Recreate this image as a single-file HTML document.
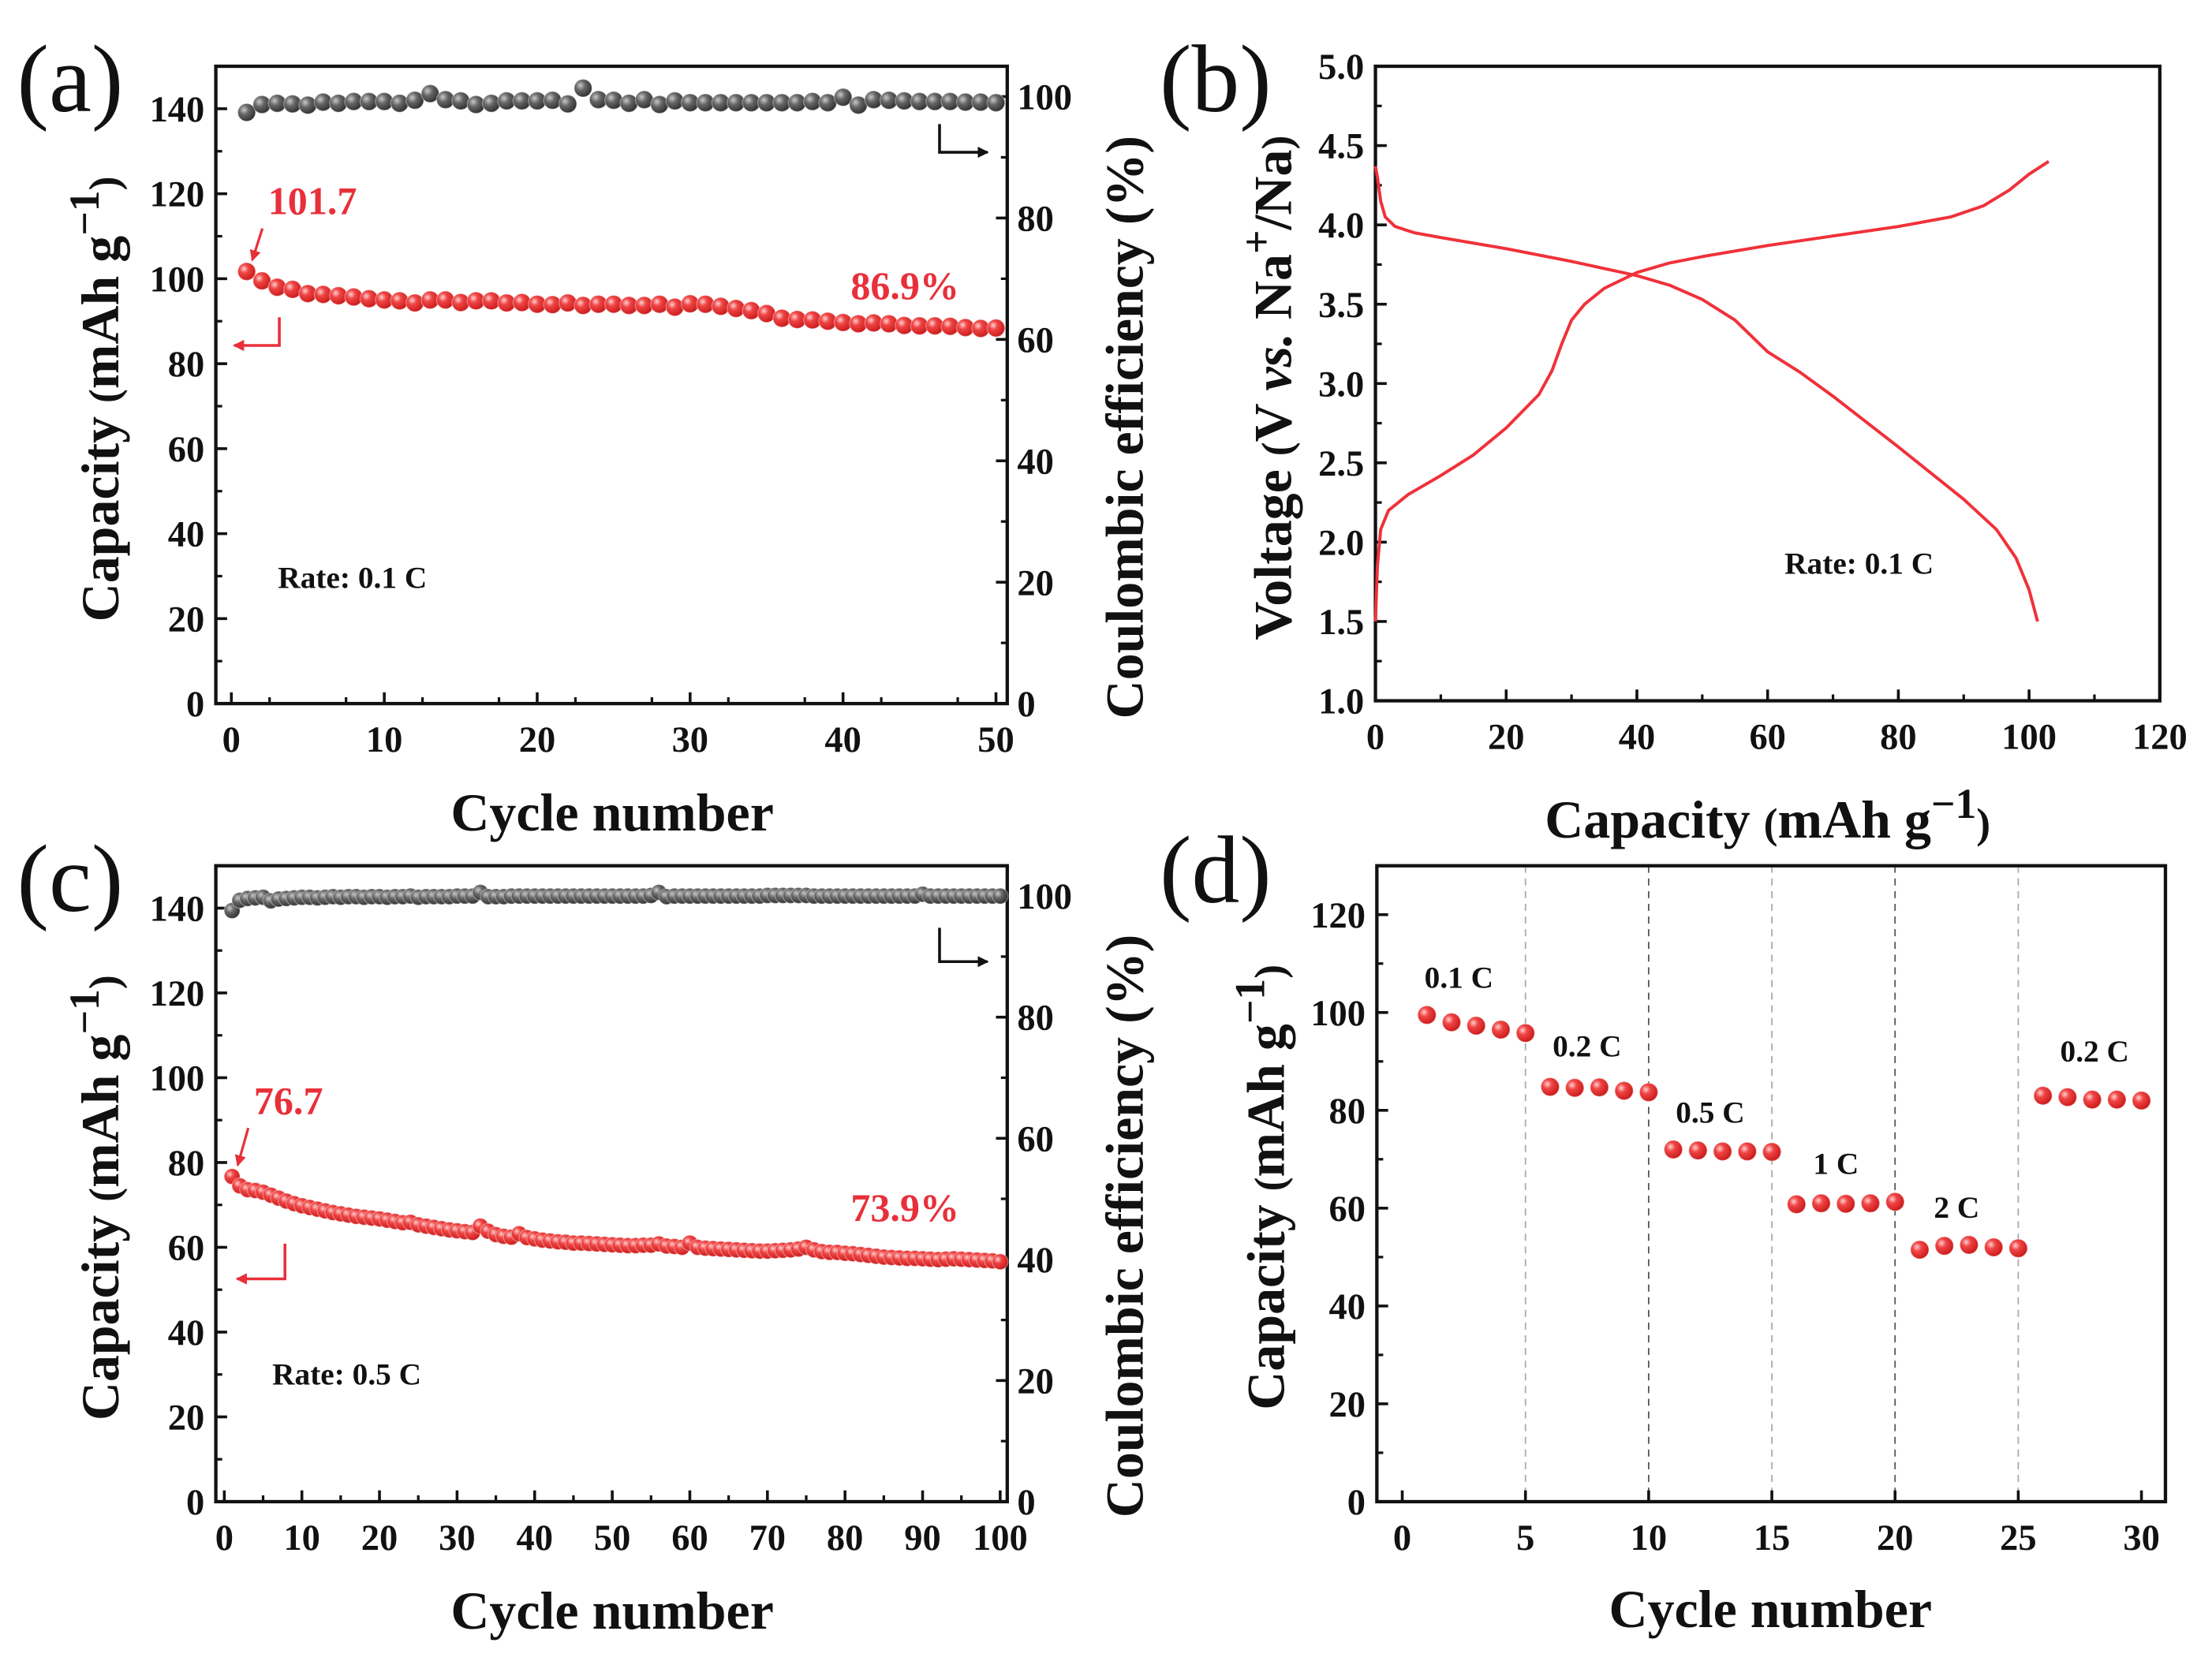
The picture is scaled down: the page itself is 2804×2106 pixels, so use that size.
<!DOCTYPE html>
<html><head><meta charset="utf-8"><style>
html,body{margin:0;padding:0;background:#fff;}
svg{display:block;}
text{font-family:"Liberation Serif",serif;}
</style></head><body>
<svg id="fig" xmlns="http://www.w3.org/2000/svg" width="2804" height="2106" viewBox="0 0 1568 1178" preserveAspectRatio="none">
<defs>
<radialGradient id="gRed" cx="0.35" cy="0.35" r="0.7"><stop offset="0" stop-color="#ffd0d0"/><stop offset="0.35" stop-color="#f04545"/><stop offset="1" stop-color="#c81818"/></radialGradient>
<radialGradient id="gGray" cx="0.35" cy="0.35" r="0.7"><stop offset="0" stop-color="#c8c8c8"/><stop offset="0.4" stop-color="#666"/><stop offset="1" stop-color="#2e2e2e"/></radialGradient>
<marker id="arrR" markerWidth="8" markerHeight="8" refX="7" refY="4" orient="auto" markerUnits="userSpaceOnUse"><path d="M0,0 L8,4 L0,8 z" fill="#e8303a"/></marker>
<marker id="arrK" markerWidth="8" markerHeight="8" refX="7" refY="4" orient="auto" markerUnits="userSpaceOnUse"><path d="M0,0 L8,4 L0,8 z" fill="#111"/></marker>
</defs>
</svg>
<script>
// ---- data ----
const aCapacity=[101.7,99.5,98,97.5,96.5,96.3,96,95.7,95.3,95,94.8,94.3,95,95,94.4,94.8,94.8,94.3,94.4,94,93.9,94.3,93.7,94,94,93.7,93.7,94,93.3,94.1,94,93.5,93,92.5,91.8,90.7,90.4,90.3,90,89.7,89.4,89.6,89.4,89,88.9,88.9,88.8,88.5,88.3,88.4];
const aCE=[97.4,98.7,98.9,98.8,98.6,99.1,98.9,99.2,99.2,99.2,98.9,99.4,100.5,99.5,99.3,98.7,98.9,99.3,99.3,99.3,99.4,98.8,101.4,99.5,99.4,98.9,99.5,98.7,99.3,99.0,99.0,99.0,99.0,99.0,99.0,99.0,99.0,99.2,99.0,99.9,98.6,99.5,99.4,99.3,99.2,99.2,99.2,99.1,99.1,99.0];
const cCapacity=[76.7,74.5,73.6,73.4,73.0,72.3,71.6,70.9,70.3,69.8,69.4,69.0,68.6,68.2,67.9,67.6,67.3,67.1,66.9,66.7,66.4,66.1,65.8,65.9,65.3,65.0,64.7,64.4,64.1,63.9,63.7,63.5,65.0,63.8,63.0,62.6,62.4,63.2,62.3,62.0,61.7,61.5,61.3,61.2,61.0,61.0,60.9,60.8,60.7,60.6,60.5,60.4,60.4,60.5,60.5,60.8,60.3,60.2,60.0,61.0,60.0,59.8,59.7,59.6,59.5,59.4,59.3,59.2,59.1,59.1,59.2,59.3,59.4,59.6,60.0,59.4,59.0,58.8,58.8,58.6,58.5,58.3,58.1,57.9,57.7,57.6,57.5,57.4,57.4,57.3,57.2,57.1,57.2,57.3,57.2,57.1,57.0,56.9,56.8,56.6];
const cCE=[97.6,99.3,99.6,99.7,99.8,99.2,99.5,99.6,99.7,99.8,99.8,99.7,99.8,99.9,99.8,99.9,99.9,99.8,99.9,99.9,99.8,99.9,99.9,100.0,99.8,99.9,99.9,99.9,99.9,100.0,100.0,100.0,100.6,99.9,99.9,99.9,100.0,100.0,100.0,100.0,100.0,100.0,100.0,100.0,100.0,100.0,100.0,100.0,100.0,100.0,100.0,100.0,100.0,100.0,100.1,100.6,99.9,100.0,100.0,100.0,100.0,100.0,100.0,100.0,100.0,100.0,100.0,100.0,100.0,100.1,100.1,100.1,100.1,100.1,100.1,100.0,100.0,100.0,100.0,100.0,100.0,100.0,100.0,100.0,100.0,100.0,100.0,100.0,100.0,100.3,100.0,100.0,100.0,100.0,100.0,100.0,100.0,100.0,100.0,100.0];
const bChargeX=[0,0.3,0.8,2,5,10,15,20,25,27,28.5,30,32,35,40,45,50,60,70,80,88,93,97,100,103];
const bChargeY=[1.5,1.85,2.08,2.2,2.3,2.42,2.55,2.72,2.93,3.08,3.25,3.4,3.5,3.6,3.7,3.76,3.8,3.87,3.93,3.99,4.05,4.12,4.22,4.32,4.4];
const bDischargeX=[0,0.3,0.8,1.5,3,6,10,20,30,40,45,50,55,60,65,70,80,90,95,98,100,101.3];
const bDischargeY=[4.37,4.3,4.15,4.05,3.99,3.95,3.92,3.85,3.77,3.68,3.62,3.53,3.4,3.2,3.07,2.92,2.6,2.27,2.08,1.9,1.7,1.5];
const dCycles=[1,2,3,4,5,6,7,8,9,10,11,12,13,14,15,16,17,18,19,20,21,22,23,24,25,26,27,28,29,30];
const dCapacity=[99.5,98,97.3,96.5,95.8,84.8,84.6,84.7,84,83.7,72,71.8,71.6,71.6,71.5,60.8,61,60.9,61,61.3,51.5,52.3,52.5,52,51.8,83,82.7,82.2,82.2,82];
const dRateLabels=['0.1 C','0.2 C','0.5 C','1 C','2 C','0.2 C'];
const dRateLabelX=[2.3,7.5,12.5,17.6,22.5,28.1];
const dRateLabelY=[105,91,77.5,67,58,90];
const dDividers=[5,10,15,20,25];
const capTicks=[0,20,40,60,80,100,120,140];
const ceTicks=[0,20,40,60,80,100];
const aXTicks=[0,10,20,30,40,50];
const cXTicks=[0,10,20,30,40,50,60,70,80,90,100];
const bYTicks=[1.0,1.5,2.0,2.5,3.0,3.5,4.0,4.5,5.0];
const bXTicks=[0,20,40,60,80,100,120];
const dYTicks=[0,20,40,60,80,100,120];
const dXTicks=[0,5,10,15,20,25,30];

const NS='http://www.w3.org/2000/svg';
const svg=document.getElementById('fig');
function mk(tag,attrs,parent){const e=document.createElementNS(NS,tag);for(const k in attrs)e.setAttribute(k,attrs[k]);(parent||svg).appendChild(e);return e;}
function lin(d0,d1,p0,p1){return v=>p0+(v-d0)*(p1-p0)/(d1-d0);}

function frame(g,box){
  const r=mk('rect',{x:box.l,y:box.t,width:box.r-box.l,height:box.b-box.t,fill:'none',stroke:'#111','stroke-width':2.4},g);
  
  
}
function yTicks(g,ticks,sy,x,side,minorStep,lo,hi,fmt,name){
  ticks.forEach(v=>{
    const y=sy(v);
    const l=mk('line',{x1:x,x2:x+side*8,y1:y,y2:y,stroke:'#111','stroke-width':2},g);
    
    
    const t=mk('text',{x:side>0?x-8:x+7,y:y+9,'font-size':26,'font-weight':'bold','text-anchor':side>0?'end':'start',fill:'#111'},g);
    t.textContent=fmt(v);
    
    
  });
  if(minorStep){for(let v=lo;v<=hi+1e-9;v+=minorStep){const y=sy(v);
    const l=mk('line',{x1:x,x2:x+side*4.5,y1:y,y2:y,stroke:'#111','stroke-width':1.8},g);
    
    }}
}
function xTicks(g,ticks,sx,y,minorStep,lo,hi,fmt,name){
  ticks.forEach(v=>{
    const x=sx(v);
    const l=mk('line',{x1:x,x2:x,y1:y,y2:y-8,stroke:'#111','stroke-width':2},g);
    
    
    const t=mk('text',{x:x,y:y+34,'font-size':26,'font-weight':'bold','text-anchor':'middle',fill:'#111'},g);
    t.textContent=fmt(v);
    
    
  });
  if(minorStep){for(let v=lo;v<=hi+1e-9;v+=minorStep){const x=sx(v);
    const l=mk('line',{x1:x,x2:x,y1:y,y2:y-4.5,stroke:'#111','stroke-width':1.8},g);
    
    }}
}
function label(g,txt,x,y,size,opts,name){
  const t=mk('text',Object.assign({x:x,y:y,'font-size':size,fill:'#111'},opts||{}),g);
  t.textContent=txt;
  
  
  return t;
}
function capTitle(g,cx,cy,name){
  const t=mk('text',{x:0,y:0,'font-size':38,'font-weight':'bold','text-anchor':'middle',fill:'#111',transform:`translate(${cx},${cy}) rotate(-90)`},g);
  
  
  t.innerHTML='Capacity <tspan font-size="30">(</tspan>mAh g<tspan dy="-14" font-size="30">−1</tspan><tspan dy="14" font-size="30">)</tspan>';
}
function dots(g,xs,ys,sx,sy,fill,r,name){
  xs.forEach((xv,i)=>{
    const c=mk('circle',{cx:sx(xv),cy:sy(ys[i]),r:r,fill:fill,stroke:'rgba(255,255,255,0.35)','stroke-width':0.8},g);
    
    
  });
}
function bracket(g,pts,marker,color,name){
  const p=mk('polyline',{points:pts,fill:'none',stroke:color,'stroke-width':2,'marker-end':marker},g);
  
  
}

// ---- cycling panel (a / c) ----
function cyclePanel(id,top,bottom,xMax,x0px,x1px,cap,ce,xt,opt){
  const g=mk('g',{});
  
  
  const box={l:153,r:714,t:top,b:bottom};
  const sx=lin(0,xMax,x0px,x1px);
  const sy=lin(0,150,bottom,top);
  const syR=lin(0,105,bottom,top);
  frame(g,box);
  yTicks(g,capTicks,sy,box.l,1,10,10,150,v=>String(v),'left-y');
  yTicks(g,ceTicks,syR,box.r,-1,10,10,100,v=>String(v),'right-y');
  xTicks(g,xt,sx,box.b,xMax/10,xMax/10/2,xMax,v=>String(v),'x');
  const cycles=cap.map((_,i)=>i+1);
  dots(g,cycles,ce,sx,syR,'url(#gGray)',opt.r,'ce-point');
  dots(g,cycles,cap,sx,sy,'url(#gRed)',opt.r,'capacity-point');
  label(g,'('+id+')',12,top+32,68,{},'panel-label');
  capTitle(g,84,(top+bottom)/2+10,'left-y-axis-title');
  const t=mk('text',{x:0,y:0,'font-size':38,'font-weight':'bold','text-anchor':'middle',fill:'#111',transform:`translate(810,${(top+bottom)/2+30}) rotate(-90)`},g);
  t.textContent='Coulombic efficiency (%)';
  
  
  label(g,'Cycle number',434,bottom+90,38,{'font-weight':'bold','text-anchor':'middle'},'x-axis-title');
  label(g,opt.rate,opt.rateX,opt.rateY,22,{'font-weight':'bold'},'rate-note');
  label(g,opt.first,opt.firstX,opt.firstY,28,{fill:'#e8303a','font-weight':'bold'},'first-capacity-note');
  const a=mk('line',{x1:opt.firstX-4,y1:opt.firstY+10,x2:sx(1)+4,y2:sy(cap[0])-8,stroke:'#e8303a','stroke-width':1.8,'marker-end':'url(#arrR)'},g);
  
  
  label(g,opt.ret,603,opt.retY,28,{fill:'#e8303a','font-weight':'bold'},'retention-note');
  bracket(g,opt.lb,'url(#arrR)','#e8303a','left-axis-indicator');
  bracket(g,opt.rb,'url(#arrK)','#111','right-axis-indicator');
}
cyclePanel('a',47,499,50,164,706,aCapacity,aCE,aXTicks,{r:6.3,rate:'Rate: 0.1 C',rateX:197,rateY:417,first:'101.7',firstX:190,firstY:152,ret:'86.9%',retY:212,lb:'198,225 198,245 166,245',rb:'666,88 666,108 700,108'});
cyclePanel('c',614,1065,100,159,709,cCapacity,cCE,cXTicks,{r:5.6,rate:'Rate: 0.5 C',rateX:193,rateY:982,first:'76.7',firstX:180,firstY:790,ret:'73.9%',retY:866,lb:'202,882 202,907 168,907',rb:'666,658 666,682 700,682'});

// ---- panel b ----
(function(){
  const g=mk('g',{});
  
  
  const box={l:975,r:1531,t:47,b:497};
  const sx=lin(0,120,975,1531), sy=lin(1,5,497,47);
  frame(g,box);
  yTicks(g,bYTicks,sy,box.l,1,0.25,1.25,5,v=>v.toFixed(1),'y');
  xTicks(g,bXTicks,sx,box.b,10,10,120,v=>String(v),'x');
  const c=mk('polyline',{points:bChargeX.map((x,i)=>sx(x)+','+sy(bChargeY[i])).join(' '),fill:'none',stroke:'#f0313a','stroke-width':2.2,'stroke-linejoin':'round'},g);
  
  
  const d=mk('polyline',{points:bDischargeX.map((x,i)=>sx(x)+','+sy(bDischargeY[i])).join(' '),fill:'none',stroke:'#f0313a','stroke-width':2.2,'stroke-linejoin':'round'},g);
  
  
  label(g,'(b)',822,79,68,{},'panel-label');
  label(g,'Rate: 0.1 C',1265,407,22,{'font-weight':'bold'},'rate-note');
  const t=mk('text',{x:0,y:0,'font-size':38,'font-weight':'bold','text-anchor':'middle',fill:'#111',transform:'translate(915,275) rotate(-90)'},g);
  
  
  t.innerHTML='Voltage <tspan font-size="30">(</tspan>V <tspan font-style="italic">vs.</tspan> Na<tspan dy="-14" font-size="30">+</tspan><tspan dy="14">/Na</tspan><tspan font-size="30">)</tspan>';
  const x=mk('text',{x:1253,y:594,'font-size':38,'font-weight':'bold','text-anchor':'middle',fill:'#111'},g);
  
  
  x.innerHTML='Capacity <tspan font-size="30">(</tspan>mAh g<tspan dy="-14" font-size="30">−1</tspan><tspan dy="14" font-size="30">)</tspan>';
})();

// ---- panel d ----
(function(){
  const g=mk('g',{});
  
  
  const box={l:976,r:1535,t:614,b:1065};
  const sx=lin(0,30,994,1518), sy=lin(0,130,1065,614);
  dDividers.forEach(v=>{
    const l=mk('line',{x1:sx(v),x2:sx(v),y1:box.t,y2:box.b,stroke:v%10===0?'#555':'#aaa','stroke-width':1,'stroke-dasharray':'5,4'},g);
    
    
  });
  frame(g,box);
  yTicks(g,dYTicks,sy,box.l,1,10,10,130,v=>String(v),'y');
  xTicks(g,dXTicks,sx,box.b,0,0,0,v=>String(v),'x');
  dots(g,dCycles,dCapacity,sx,sy,'url(#gRed)',6.5,'capacity-point');
  dRateLabels.forEach((s,i)=>{
    label(g,s,sx(dRateLabelX[i]),sy(dRateLabelY[i]),22,{'font-weight':'bold','text-anchor':'middle'},'rate-label');
  });
  label(g,'(d)',822,640,68,{},'panel-label');
  capTitle(g,910,842,'y-axis-title');
  label(g,'Cycle number',1255,1154,38,{'font-weight':'bold','text-anchor':'middle'},'x-axis-title');
})();
</script>
</body></html>
